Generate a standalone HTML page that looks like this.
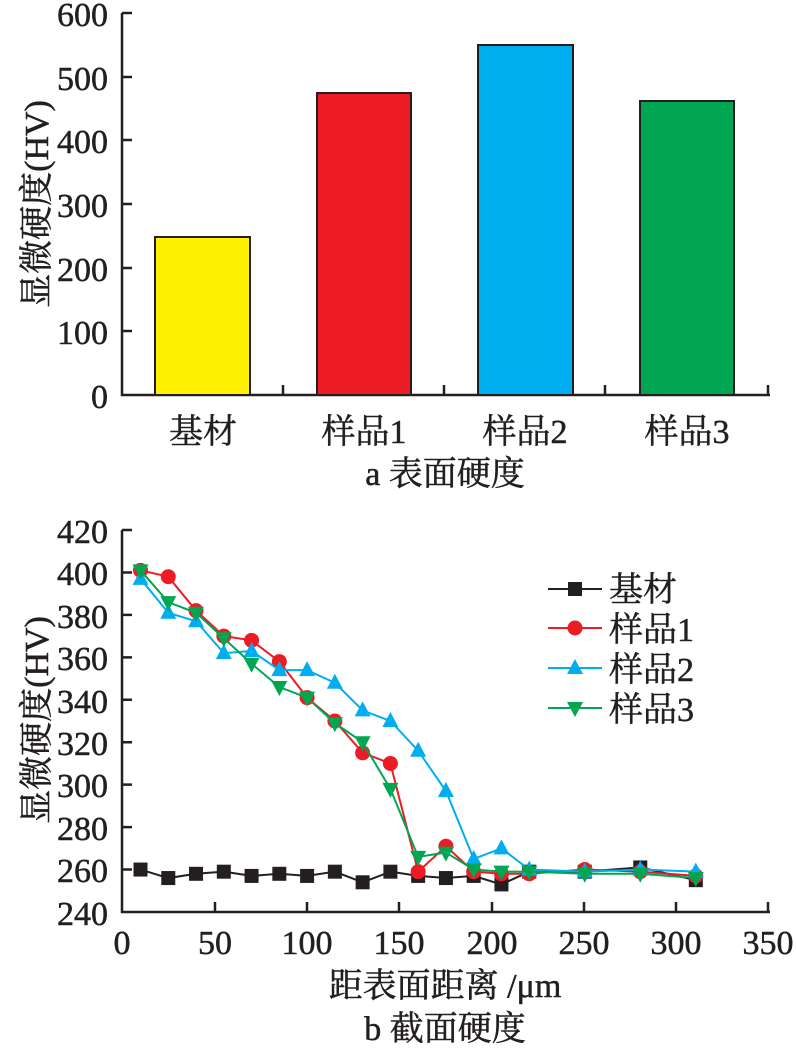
<!DOCTYPE html>
<html><head><meta charset="utf-8"><style>
body{margin:0;background:#fff}
svg{display:block}
text{font-family:"Liberation Serif","Noto Serif CJK SC",serif;fill:#231f20;stroke:#231f20;stroke-width:0.5}
</style></head><body>
<svg id="s" width="796" height="1054" viewBox="0 0 796 1054" xmlns="http://www.w3.org/2000/svg">
<g stroke="#231f20" stroke-width="2.5" fill="none">
<path d="M122,13 V395 H770"/>
<path d="M122,13h10M122,77h10M122,140h10M122,204h10M122,268h10M122,331h10"/>
<path d="M283,395v-10M444,395v-10M605,395v-10M768,395v-10"/>
</g>
<g stroke="#231f20" stroke-width="2">
<rect x="155" y="237" width="95" height="158" fill="#fff200"/>
<rect x="317" y="93" width="94" height="302" fill="#ed1c24"/>
<rect x="478" y="45" width="95" height="350" fill="#00aeef"/>
<rect x="640" y="101" width="94" height="294" fill="#00a651"/>
</g>
<g font-size="34" text-anchor="end">
<text x="108" y="26">600</text><text x="108" y="90">500</text><text x="108" y="153">400</text>
<text x="108" y="217">300</text><text x="108" y="281">200</text><text x="108" y="344">100</text><text x="108" y="408">0</text>
</g>
<text transform="translate(48,204) rotate(-90)" font-size="34" text-anchor="middle">显微硬度(HV)</text>
<g font-size="34" text-anchor="middle">
<text x="203" y="443">基材</text><text x="364" y="443">样品1</text><text x="525" y="443">样品2</text><text x="687" y="443">样品3</text>
<text x="445" y="485">a 表面硬度</text>
</g>
<g stroke="#231f20" stroke-width="2.5" fill="none">
<path d="M122,530 V912 H770"/>
<path id="yt" d=""/>
<path d="M215,912v-10M307,912v-10M399,912v-10M492,912v-10M584,912v-10M676,912v-10M768,912v-10"/>
</g>
<g font-size="34" text-anchor="end">
<text x="108" y="543">420</text><text x="108" y="585">400</text><text x="108" y="628">380</text><text x="108" y="670">360</text>
<text x="108" y="713">340</text><text x="108" y="755">320</text><text x="108" y="797">300</text><text x="108" y="840">280</text>
<text x="108" y="882">260</text><text x="108" y="925">240</text>
</g>
<g font-size="34" text-anchor="middle">
<text x="122" y="954">0</text><text x="215" y="954">50</text><text x="307" y="954">100</text><text x="399" y="954">150</text>
<text x="492" y="954">200</text><text x="584" y="954">250</text><text x="676" y="954">300</text><text x="768" y="954">350</text>
<text x="445" y="997">距表面距离 /μm</text>
<text x="445" y="1040">b 截面硬度</text>
</g>
<text transform="translate(48,720) rotate(-90)" font-size="34" text-anchor="middle">显微硬度(HV)</text>
<g id="series"></g>
<g font-size="34">
<text x="609" y="601">基材</text><text x="609" y="641">样品1</text><text x="609" y="681">样品2</text><text x="609" y="721">样品3</text>
</g>
</svg>
<script>
var NS="http://www.w3.org/2000/svg",g=document.getElementById("series");
function X(x){return 122+x*1.851}function Y(v){return 912-(v-240)*2.1222}
var yt="";for(var v=260;v<=420;v+=20){yt+="M122,"+Y(v)+"h10";}document.getElementById("yt").setAttribute("d",yt);
var xs=[10,25,40,55,70,85,100,115,130,145,160,175,190,205,220,250,280,310];
var S=[
["#231f20","sq",[260,256,258,259,257,258,257,259,254,259,257,256,257,253,259,259,261,255],589],
["#ed1c24","ci",[401,398,382,370,368,358,341,330,315,310,259,271,259,258,258,260,259,257],628],
["#00aeef","tu",[397,381,377,362,363,354,354,348,335,330,316,297,265,270,260,259,260,259],668],
["#00a651","td",[401,386,381,369,357,346,341,329,320,298,266,268,260,259,259,258,258,256],708]];
function el(n,a){var e=document.createElementNS(NS,n);for(var k in a)e.setAttribute(k,a[k]);g.appendChild(e);return e}
function mk(t,x,y,c){
 if(t=="sq")el("rect",{x:x-7,y:y-7,width:14,height:14,fill:c});
 else if(t=="ci")el("circle",{cx:x,cy:y,r:7.5,fill:c});
 else if(t=="tu")el("polygon",{points:(x-8)+","+(y+6)+" "+(x+8)+","+(y+6)+" "+x+","+(y-9),fill:c});
 else el("polygon",{points:(x-8)+","+(y-6)+" "+(x+8)+","+(y-6)+" "+x+","+(y+9),fill:c});
}
S.forEach(function(s){
 var p=xs.map(function(x,i){return X(x)+","+Y(s[2][i])}).join(" ");
 el("polyline",{points:p,fill:"none",stroke:s[0],"stroke-width":2});
 xs.forEach(function(x,i){mk(s[1],X(x),Y(s[2][i]),s[0])});
 el("line",{x1:548,x2:602,y1:s[3],y2:s[3],stroke:s[0],"stroke-width":2});
 mk(s[1],575,s[3],s[0]);
});
</script>
</body></html>
